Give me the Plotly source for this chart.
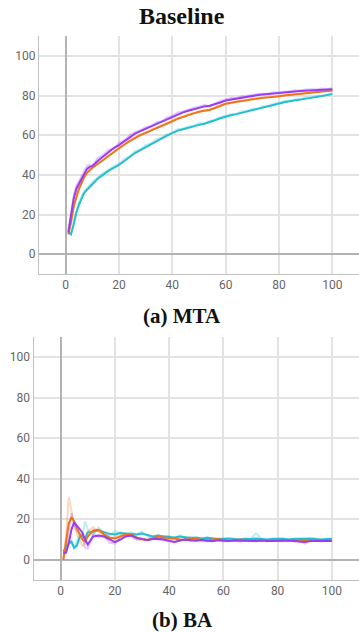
import plotly.graph_objects as go

# Training epochs at which each metric was logged
epochs = list(range(1, 11)) + list(range(12, 101, 2))

# ---- (a) MTA : smoothed curves and raw (faint) curves ----
mta_purple = [11, 20, 28, 33, 35.5, 38, 41, 43, 44, 44.5,
              47, 49.2, 51.5, 53.5, 55, 57, 59, 60.8, 62,
              63.2, 64.3, 65.5, 66.5, 68, 69.2, 70.5, 71.5, 72.3,
              73, 73.8, 74.5, 74.8, 75.5, 76.5, 77.5, 78, 78.5,
              79, 79.5, 79.8, 80.2, 80.5, 80.7, 81, 81.2, 81.5,
              81.8, 82, 82.3, 82.5, 82.7, 82.8, 83, 83.1, 83.2]
mta_purple_raw = [12, 21, 29, 34.5, 37, 39.5, 42, 44.5, 45, 44,
                  48.5, 50, 52.5, 53, 56.2, 57.5, 60, 61.5, 62.5,
                  64, 64.5, 66.5, 67, 69, 69.8, 71.5, 72, 72.8,
                  73.8, 74.2, 75.3, 74.3, 76, 77.2, 78, 78.8, 78.6,
                  79.6, 79.8, 80.3, 80.6, 81, 80.9, 81.6, 81.5, 82,
                  82.1, 82.6, 82.5, 83, 83.1, 83, 83.5, 83.3, 83.6]
mta_orange = [10, 16, 24, 29, 33, 36, 39, 41, 42.5, 43.5,
              45.5, 47.5, 49.5, 51.5, 53.3, 55.3, 57, 58.7, 60,
              61.2, 62.3, 63.5, 64.5, 65.8, 67, 68.3, 69.3, 70.2,
              71, 71.8, 72.3, 72.8, 73.7, 74.8, 75.8, 76.3, 76.8,
              77.3, 77.8, 78.2, 78.5, 78.8, 79, 79.3, 79.6, 80,
              80.3, 80.6, 81, 81.3, 81.6, 81.9, 82.1, 82.3, 82.5]
mta_orange_raw = [10, 17, 25, 30, 33.5, 36.5, 39.5, 41.2, 43, 43.8,
                  46, 47.2, 50, 51.8, 53.8, 55, 57.6, 58.9, 60.5,
                  61, 62.8, 63.6, 65, 65.6, 67.5, 68.6, 69.2, 70.6,
                  71.3, 71.5, 72.6, 72.5, 74, 75, 76, 76.1, 77.1,
                  77.5, 77.6, 78.5, 78.3, 79, 79.2, 79.1, 79.9, 80.2,
                  80.4, 80.9, 81.1, 81.5, 81.8, 82, 82.4, 82.4, 82.8]
mta_cyan = [11, 10, 15, 21, 25, 28.5, 31, 32.5, 34, 35.5,
            38, 40, 42, 43.5, 45, 47, 49, 51, 52.5,
            54, 55.5, 57, 58.5, 59.8, 61, 62.3, 63, 63.8,
            64.5, 65.2, 65.8, 66.5, 67.5, 68.5, 69.4, 70, 70.6,
            71.3, 72, 72.7, 73.3, 74, 74.6, 75.3, 76, 76.6,
            77.1, 77.6, 78, 78.4, 78.8, 79.2, 79.6, 80.1, 80.7]
mta_cyan_raw = [11.5, 10, 16.5, 22, 26, 29.5, 32, 33, 35, 36.5,
                38.5, 41, 42.5, 44.5, 45.5, 48, 49.5, 52, 52.8,
                55, 55.8, 58, 58.8, 60.5, 61.3, 63, 63.2, 64.5,
                64.8, 66, 66, 67.2, 67.8, 69.2, 69.8, 70.5, 70.8,
                72, 72.3, 73.3, 73.5, 74.6, 74.8, 76, 76.3, 77.2,
                77.3, 78.2, 78.2, 79, 79, 79.8, 79.8, 80.6, 81]

# ---- (b) BA : smoothed curves and raw (faint) curves ----
ba_purple = [3.3, 3.6, 8, 15, 18.5, 17, 15, 13.5, 10, 7.5,
             11.5, 12, 11.5, 10, 8.7, 10, 11.5, 12, 10.8,
             10.2, 9.8, 10.2, 10.4, 10, 9.5, 8.8, 9.5, 10,
             9.6, 9.4, 9.8, 9.5, 9.2, 9.6, 9.4, 9.2, 9.5,
             9.4, 9.2, 9.4, 9.2, 9.5, 9.2, 9.3, 9.4, 9.2,
             9.5, 9.3, 9.2, 8.8, 9.2, 9.4, 9.2, 9.4, 9.3]
ba_purple_raw = [3.3, 3, 14, 23, 17, 14, 13, 12, 6, 5.5,
                 13, 11, 12, 8.5, 8, 11, 12.5, 11.5, 10,
                 10.5, 9.5, 10.5, 10, 9.5, 9, 8.5, 10, 10.2,
                 9.2, 9.8, 10, 9, 9.4, 9.8, 9, 9.4, 9.8,
                 9, 9.4, 9.6, 9, 9.8, 9, 9.6, 9.2, 9,
                 9.8, 9, 9.4, 8, 9.4, 9.6, 9, 9.6, 9.2]
ba_orange = [0, 8, 18, 21, 19, 15.5, 12.5, 10, 9, 11.5,
             14.5, 14.8, 12.5, 11, 10.5, 11.5, 12.5, 12.5, 11,
             10.2, 9.8, 10.5, 11.5, 11, 10.8, 10.5, 10, 9.8,
             10.2, 10.5, 9.8, 9.5, 10, 10.2, 9.8, 9.5, 9.6,
             10, 9.8, 9.5, 9.8, 9.6, 9.8, 9.6, 9.4, 9.8,
             9.5, 9.6, 9.2, 9.6, 9.8, 9.5, 9.7, 9.6, 9.8]
ba_orange_raw = [0, 12, 31, 24, 17, 13, 10, 7, 8, 14,
                 16, 14, 11, 10, 11.5, 12.5, 13, 12, 10,
                 9.5, 10, 11.5, 12, 10.5, 10.5, 10, 9.5, 10.2,
                 10.8, 10, 9.2, 9.8, 10.5, 10, 9.5, 9.2, 10,
                 10.2, 9.4, 9.6, 10.2, 9, 10, 9.2, 9.6, 10,
                 9, 10, 8.8, 9.8, 10, 9.2, 10, 9.4, 10]
ba_cyan = [4, 6, 8, 9, 6, 7, 11, 12.5, 10.5, 13.5,
           13.8, 14.5, 13.8, 12.8, 12.5, 13.2, 13, 12.8, 12.5,
           13, 12.2, 11.5, 11.8, 11.5, 11.2, 11, 11.5, 11.2,
           10.8, 11, 10.5, 10.8, 10.5, 10.2, 10.3, 10.5, 10.2,
           10, 10.3, 10.2, 10.5, 10.3, 10, 10.2, 10.4, 10.2,
           10, 10.2, 10.4, 10.2, 10.5, 10.2, 10, 10.2, 10.3]
ba_cyan_raw = [4, 7, 10, 8, 5, 9, 13, 11, 19, 15,
               12.5, 16, 13, 12, 14, 13.5, 12.2, 13.5, 12.5,
               14, 11.5, 11, 12.5, 11, 11.8, 10.5, 12, 10.8,
               11.2, 10.5, 10.2, 11.2, 10.2, 10.5, 10.8, 10.2, 10.5,
               9.8, 10.8, 10, 13, 10.5, 9.8, 10.6, 10.2, 10.8,
               9.8, 10.6, 10.2, 10.8, 10.2, 10.6, 9.8, 10.4, 10.5]

tick_vals = [0, 20, 40, 60, 80, 100]
title_text = "Baseline"
caption_a = "(a) MTA"
caption_b = "(b) BA"

PURPLE = "#9a3cf0"
ORANGE = "#ef7418"
CYAN = "#22bfcf"

W, H = 359, 632

fig = go.Figure()

panels = [
    ("x", "y", mta_cyan, mta_cyan_raw, mta_orange, mta_orange_raw, mta_purple, mta_purple_raw),
    ("x2", "y2", ba_cyan, ba_cyan_raw, ba_orange, ba_orange_raw, ba_purple, ba_purple_raw),
]

for xa, ya, c, c_raw, o, o_raw, p, p_raw in panels:
    # faint raw curves underneath
    for raw, col in ((c_raw, CYAN), (o_raw, ORANGE), (p_raw, PURPLE)):
        fig.add_trace(go.Scatter(x=epochs, y=raw, mode="lines",
                                 line=dict(color=col, width=2), opacity=0.28,
                                 xaxis=xa, yaxis=ya, showlegend=False, hoverinfo="skip"))
    # smoothed curves on top
    for sm, col in ((c, CYAN), (o, ORANGE), (p, PURPLE)):
        fig.add_trace(go.Scatter(x=epochs, y=sm, mode="lines",
                                 line=dict(color=col, width=2),
                                 xaxis=xa, yaxis=ya, showlegend=False, hoverinfo="skip"))

axis_style = dict(
    range=[-10, 110], tickvals=tick_vals, ticks="",
    showgrid=True, gridcolor="#e3e3e3", gridwidth=2,
    zeroline=True, zerolinecolor="#b3b3b3", zerolinewidth=2,
    showline=True, linecolor="#c2c2c2", linewidth=1,
    tickfont=dict(family="Roboto", size=12, color="#666666"),
    fixedrange=True,
)

top_y = [1 - 274 / H, 1 - 36 / H]
bot_y = [1 - 580 / H, 1 - 337 / H]

fig.update_layout(
    width=W, height=H,
    margin=dict(l=0, r=0, t=0, b=0),
    paper_bgcolor="white", plot_bgcolor="white",
    xaxis=dict(domain=[39 / W, 1], anchor="y", **axis_style),
    yaxis=dict(domain=top_y, anchor="x", **axis_style),
    xaxis2=dict(domain=[33.5 / W, 1], anchor="y2", **axis_style),
    yaxis2=dict(domain=bot_y, anchor="x2", **axis_style),
)

serif = dict(family="Liberation Serif", color="#111111", weight="bold")
for text, ypix, size in ((title_text, 15.5, 24), (caption_a, 316, 21), (caption_b, 620, 21)):
    fig.add_annotation(text=text, xref="paper", yref="paper",
                       x=182 / W, y=1 - ypix / H, xanchor="center", yanchor="middle",
                       showarrow=False, font=dict(size=size, **serif))

fig.write_html("out.html")
